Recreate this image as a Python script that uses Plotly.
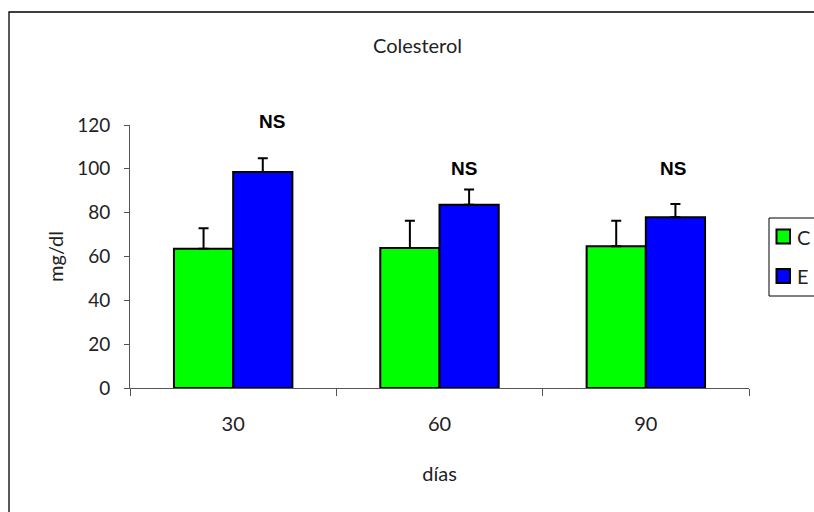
import plotly.graph_objects as go

# ---- data ----
categories = ["30", "60", "90"]
control_vals = [63.5, 63.9, 64.7]
control_err = [9.4, 12.4, 11.6]
exp_vals = [98.5, 83.6, 77.9]
exp_err = [6.3, 7.0, 6.0]
ns_labels = ["NS", "NS", "NS"]
ns_y = [121.7, 100.2, 100.0]
y_ticks = [0, 20, 40, 60, 80, 100, 120]
series_names = ["C", "E"]
series_colors = ["#00FF00", "#0000FF"]

# ---- layout geometry ----
W, H = 814, 512
L, R, T, B = 130, 65, 125, 124
pw = W - L - R
ph = H - T - B
Y_MAX = 120


def px_x(p):
    return (p - L) / pw


def px_y(p):
    return (H - B - p) / ph


LIGHT_FONT = "Lato"
TEXT_COLOR = "#222"
ns_x = [0.19, 1.12, 2.13]  # annotation anchor positions (category index units)

fig = go.Figure()
for name, vals, errs, col in zip(series_names, [control_vals, exp_vals],
                                 [control_err, exp_err], series_colors):
    fig.add_trace(go.Bar(
        name=name, x=categories, y=vals, showlegend=False,
        marker=dict(color=col, line=dict(color="black", width=2)),
        error_y=dict(type="data", array=errs, arrayminus=[0] * len(errs), symmetric=False,
                     color="black", thickness=2, width=5),
    ))

for xv, yv, t in zip(ns_x, ns_y, ns_labels):
    fig.add_annotation(x=xv, y=yv / Y_MAX, xref="x", yref="paper", text="<b>%s</b>" % t,
                       showarrow=False, yanchor="middle", xanchor="center",
                       font=dict(family="Liberation Sans, Arial", size=19, color="black"))

# outer chart frame (extends past right/bottom edges as in reference)
fig.add_shape(type="rect", xref="paper", yref="paper",
              x0=px_x(9), x1=px_x(W + 10), y0=px_y(H + 10), y1=px_y(12),
              line=dict(color="black", width=1.3), fillcolor="rgba(0,0,0,0)", layer="below")

# legend box (drawn manually, clipped at the right edge as in reference)
fig.add_shape(type="rect", xref="paper", yref="paper",
              x0=px_x(769), x1=px_x(W + 10), y0=px_y(296), y1=px_y(218),
              line=dict(color="black", width=1), fillcolor="white")
for i, (name, col) in enumerate(zip(series_names, series_colors)):
    cy = 236.5 + 39.5 * i
    fig.add_shape(type="rect", xref="paper", yref="paper",
                  x0=px_x(776.5), x1=px_x(790), y0=px_y(cy + 7), y1=px_y(cy - 7),
                  line=dict(color="black", width=2), fillcolor=col)
    fig.add_annotation(x=px_x(795), y=px_y(cy), xref="paper", yref="paper", text=name,
                       showarrow=False, xanchor="left", yanchor="middle",
                       font=dict(family=LIGHT_FONT, size=20, color=TEXT_COLOR))

fig.update_layout(
    width=W, height=H,
    margin=dict(l=L, r=R, t=T, b=B, autoexpand=False),
    paper_bgcolor="white", plot_bgcolor="white",
    font=dict(family=LIGHT_FONT, size=20, color=TEXT_COLOR),
    barmode="group", bargap=0.426, bargroupgap=0,
    showlegend=False,
    title=dict(text="Colesterol", x=417.5 / W, xref="container", xanchor="center",
               y=(H - 46) / H, yref="container", yanchor="middle",
               font=dict(family=LIGHT_FONT, size=20, color=TEXT_COLOR)),
    xaxis=dict(type="category", showline=True, linecolor="#555", linewidth=1,
               ticks="outside", ticklen=7, tickcolor="#555", tickson="boundaries",
               showgrid=False, ticklabelstandoff=18,
               title=dict(text="días", standoff=32, font=dict(size=20))),
    yaxis=dict(range=[0, Y_MAX], tickvals=y_ticks, showline=True, linecolor="#555",
               linewidth=1, ticks="outside", ticklen=5, tickcolor="#555",
               showgrid=False, zeroline=False, ticklabelstandoff=10,
               tickfont=dict(size=19),
               title=dict(text="mg/dl", standoff=8, font=dict(size=20))),
)

fig.write_html("out.html", config={"displayModeBar": False},
               post_script="document.body.style.margin='0';")
